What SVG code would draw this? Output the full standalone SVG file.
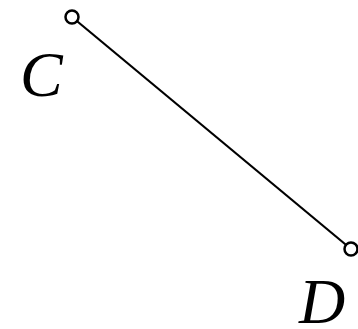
<svg xmlns="http://www.w3.org/2000/svg" width="358" height="329" viewBox="0 0 358 329">
<style>
.lbl{font-family:"Liberation Serif","Times New Roman",serif;font-style:italic;font-size:64px;fill:#000}
.node{fill:#fff;stroke:#000;stroke-width:2.5}
.edge{stroke:#000;stroke-width:2.2;fill:none}
</style>
<rect width="358" height="329" fill="#fff"/>
<g id="connectors">
<line class="edge" x1="72" y1="17" x2="351" y2="249"/>
</g>
<g id="nodeC">
<circle class="node" cx="72" cy="17" r="6.5"/>
<text class="lbl" x="20" y="96">C</text>
</g>
<g id="nodeD">
<circle class="node" cx="351" cy="249" r="6.5"/>
<text class="lbl" x="299" y="323">D</text>
</g>
</svg>
